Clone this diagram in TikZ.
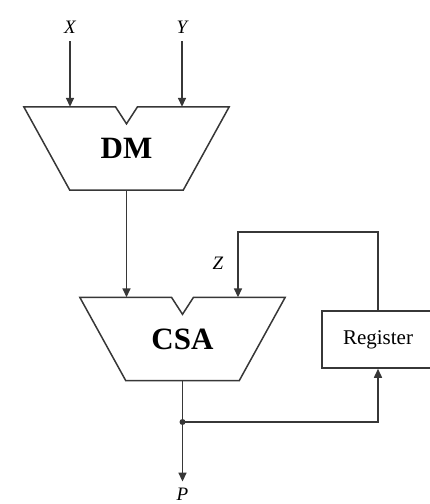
\documentclass[tikz,border=0pt]{standalone}
\usepackage{fontspec}
\setmainfont{Liberation Serif}
\usetikzlibrary{arrows.meta,positioning,calc}
\definecolor{wirecolor}{RGB}{55,55,55}
\tikzset{
  muxbox/.style={rectangle,minimum width=205pt,minimum height=83pt,inner sep=0pt,font=\fontsize{31}{34}\selectfont\bfseries},
  regbox/.style={rectangle,draw=wirecolor,line width=1.5pt,minimum width=112pt,minimum height=57pt,inner sep=0pt,font=\fontsize{21}{24}\selectfont},
  sig/.style={inner sep=0pt,font=\fontsize{19}{21}\selectfont\itshape},
  wire/.style={draw=wirecolor,line width=1.5pt},
  arr/.style={wire,-{Triangle[length=9pt,width=8pt]}},
  tapdot/.style={circle,fill=wirecolor,inner sep=0pt,minimum size=6pt}
}
\newcommand{\muxoutline}[1]{%
  \draw[wire,line join=miter] (#1.north west) -- ($(#1.north)+(-11,0)$) -- ($(#1.north)+(0,17)$)
    -- ($(#1.north)+(11,0)$) -- (#1.north east) -- ($(#1.south east)+(-46,0)$)
    -- ($(#1.south west)+(46,0)$) -- cycle;}

\begin{document}
\begin{tikzpicture}[x=1pt,y=-1pt]
  \useasboundingbox (0,0) rectangle (430,504);
  % blocks
  \node[muxbox] (dm) at (126.5,148.5) {DM};
  \node[muxbox] (csa) at (182.5,339) {CSA};
  \muxoutline{dm}
  \muxoutline{csa}
  \node[regbox] (reg) at (378,339.5) {Register};

  % signal labels
  \node[sig] (xin) at (70,27) {X};
  \node[sig] (yin) at (182,27) {Y};
  \node[sig] (zin) at (218,263) {Z};
  \node[sig] (pout) at (182.5,494) {P};
  \coordinate (ztop) at (238,232);
  \node[tapdot] (tap) at (182.5,422) {};

  % connectors
  \draw[arr,shorten <=8pt] (xin.south) -- (xin |- dm.north);
  \draw[arr,shorten <=8pt] (yin.south) -- (yin |- dm.north);
  \draw[arr] (dm.south) -- (dm.south |- csa.north);
  \draw[arr] (reg.north) |- (ztop) -- (ztop |- csa.north);
  \draw[arr,shorten >=6pt] (csa.south) -- (pout.north);
  \draw[arr] (tap.center) -| (reg.south);
\end{tikzpicture}
\end{document}
